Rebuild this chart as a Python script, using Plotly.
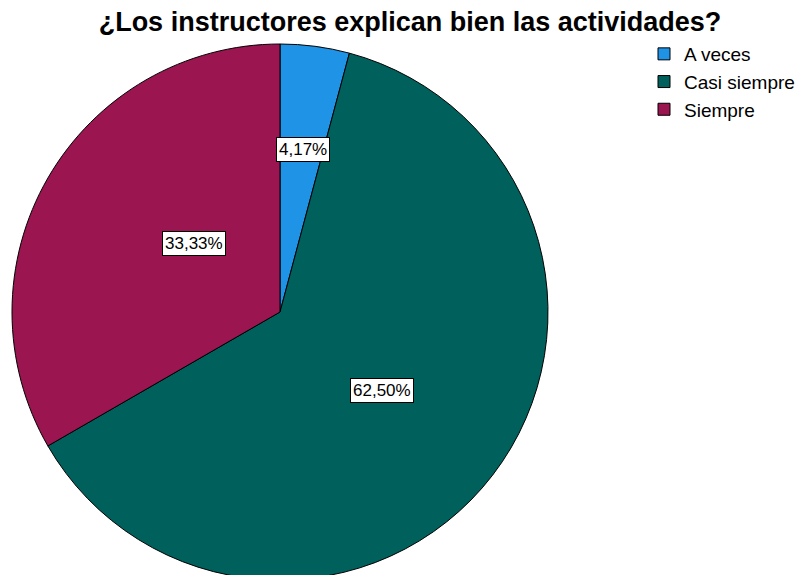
import math
import plotly.graph_objects as go

categories = ["A veces", "Casi siempre", "Siempre"]
values = [4.17, 62.50, 33.33]
text_labels = ["4,17%", "62,50%", "33,33%"]
colors = ["#1F93E6", "#00605C", "#9B1550"]

W, H = 812, 575
OFF = 8  # page body offset
mt, mb, ml, mr = 36, 3, 0, 0
ph = H - mt - mb
r_px = ph / 2
cx_px, cy_px = 280 - OFF, mt + r_px
dom_x = [(cx_px - r_px) / W, (cx_px + r_px) / W]

fig = go.Figure(go.Pie(
    labels=categories, values=values, sort=False, direction="clockwise",
    rotation=0, marker=dict(colors=colors, line=dict(color="black", width=1)),
    textinfo="none", hoverinfo="label+percent",
    domain=dict(x=dom_x, y=[0, 1]),
))

# label boxes placed at slice mid-angles
radial_frac = [0.66, 0.48, 0.51]
total = sum(values)
start = 0.0
annotations = []
for v, t, f in zip(values, text_labels, radial_frac):
    mid = (start + v / 2) / total * 2 * math.pi
    start += v
    px = cx_px + f * r_px * math.sin(mid)
    py = cy_px - f * r_px * math.cos(mid)
    annotations.append(dict(
        x=px / W, y=(H - mb - py) / ph, xref="paper", yref="paper",
        text=t, showarrow=False, bgcolor="white", bordercolor="black",
        borderwidth=1, borderpad=2,
        font=dict(family="Liberation Sans, Arial", size=17, color="black"),
    ))

fig.update_layout(
    width=W, height=H, margin=dict(l=ml, r=mr, t=mt, b=mb),
    paper_bgcolor="white", plot_bgcolor="white",
    title=dict(text="<b>¿Los instructores explican bien las actividades?</b>",
               x=(410 - OFF) / W, xanchor="center", y=1 - (22 - OFF) / H, yanchor="middle",
               font=dict(family="Liberation Sans, Arial", size=27, color="black")),
    legend=dict(x=(644 - OFF) / W, y=(H - mb - (35 - OFF)) / ph, xanchor="left", yanchor="top",
                font=dict(family="Liberation Sans, Arial", size=19, color="black"),
                itemwidth=30, tracegroupgap=0, bgcolor="rgba(0,0,0,0)"),
    annotations=annotations,
)

fig.write_html("out.html")
